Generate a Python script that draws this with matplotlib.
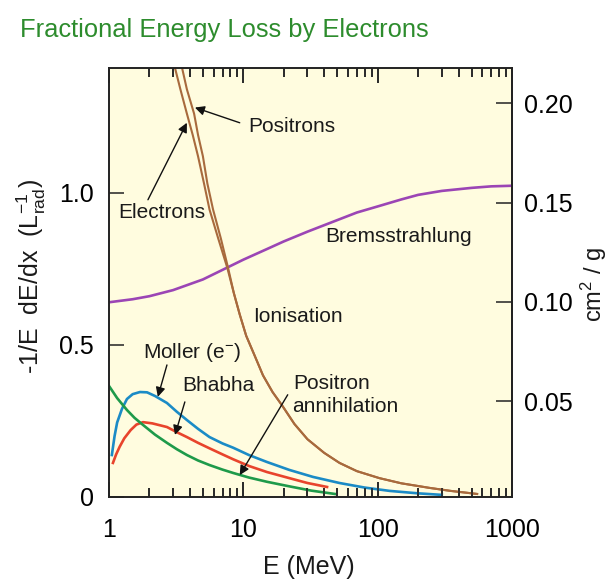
import matplotlib
matplotlib.use('Agg')
import matplotlib.pyplot as plt
from matplotlib import ticker

# energies in MeV, values in units of 1/L_rad
brems_energy = [1, 1.5, 2, 3, 5, 7.5, 10, 15, 20, 30, 50, 70, 100, 150, 200, 300, 500, 700, 1000]
brems = [0.64, 0.65, 0.66, 0.68, 0.715, 0.753, 0.78, 0.815, 0.84, 0.872, 0.91, 0.935,
         0.955, 0.978, 0.993, 1.006, 1.016, 1.021, 1.023]

ion_e_energy = [3.1, 3.4, 3.8, 4.2, 4.6, 5.1, 5.6, 6.5, 7.6, 8.5, 9.4, 10.5, 12, 14, 16.5,
                19.5, 24, 30, 40, 52, 70, 103, 150, 243, 350, 550]
ion_e = [1.41, 1.34, 1.26, 1.19, 1.12, 1.03, 0.945, 0.85, 0.753, 0.67, 0.60, 0.53, 0.47,
         0.40, 0.345, 0.30, 0.24, 0.19, 0.145, 0.112, 0.085, 0.062, 0.045, 0.03, 0.02, 0.01]

ion_p_energy = [3.5, 3.8, 4.3, 4.6, 5.0, 5.4, 5.95, 6.8, 7.7, 8.5, 9.4, 10.5, 12, 14, 16.5,
                19.5, 24, 30, 40, 52, 70, 103, 150, 243, 350, 550]
ion_p = [1.41, 1.34, 1.26, 1.19, 1.12, 1.03, 0.945, 0.85, 0.753, 0.67, 0.60, 0.53, 0.47,
         0.40, 0.345, 0.30, 0.24, 0.19, 0.145, 0.112, 0.085, 0.062, 0.045, 0.03, 0.02, 0.01]

moller_energy = [1.05, 1.1, 1.15, 1.25, 1.36, 1.5, 1.7, 1.92, 2.2, 2.7, 3.2, 3.8, 4.6, 5.6,
                 7, 8.4, 11, 15, 22, 33, 52, 80, 123, 200, 300]
moller = [0.138, 0.20, 0.245, 0.29, 0.322, 0.338, 0.345, 0.344, 0.332, 0.309, 0.28, 0.253,
          0.224, 0.197, 0.176, 0.162, 0.138, 0.115, 0.089, 0.066, 0.046, 0.031, 0.020, 0.012, 0.007]

bhabha_energy = [1.07, 1.13, 1.2, 1.3, 1.45, 1.6, 1.79, 2.1, 2.7, 3.2, 3.8, 4.6, 5.6, 7,
                 8.4, 11, 15, 22, 30, 42]
bhabha = [0.112, 0.14, 0.165, 0.193, 0.22, 0.238, 0.246, 0.242, 0.230, 0.213, 0.197, 0.178,
          0.160, 0.14, 0.124, 0.102, 0.082, 0.062, 0.046, 0.033]

annih_energy = [1.0, 1.15, 1.36, 1.55, 1.79, 2.2, 2.7, 3.2, 3.8, 4.6, 5.6, 7, 8.4, 11, 15,
                22, 32, 48]
annih = [0.365, 0.325, 0.286, 0.26, 0.237, 0.205, 0.178, 0.157, 0.138, 0.12, 0.105, 0.09,
         0.079, 0.064, 0.05, 0.035, 0.021, 0.010]

x_ticks = [1, 10, 100, 1000]
x_ticklabels = ['1', '10', '100', '1000']
left_ticks = [0, 0.5, 1.0]
left_ticklabels = ['0', '0.5', '1.0']
right_ticks = [0.05, 0.10, 0.15, 0.20]
right_ticklabels = ['0.05', '0.10', '0.15', '0.20']

# 1/L_rad -> cm^2/g, taken from where the two tick scales line up
CM2G_SCALE = 0.15326
CM2G_OFFSET = 0.0017

plt.rcParams['font.family'] = ['Liberation Sans', 'DejaVu Sans']
plt.rcParams['mathtext.fontset'] = 'custom'
plt.rcParams['mathtext.rm'] = 'Liberation Sans'
plt.rcParams['mathtext.it'] = 'Liberation Sans:italic'

W, H = 610, 583
fig = plt.figure(figsize=(W / 100, H / 100), dpi=100)
ax = fig.add_axes([109 / W, 1 - 497 / H, 403 / W, 429 / H])
ax.set_facecolor('#FFFCDF')

ax.plot(brems_energy, brems, color='#9B45B5', lw=1.9)
ax.plot(ion_e_energy, ion_e, color='#A86A3D', lw=1.5)
ax.plot(ion_p_energy, ion_p, color='#A86A3D', lw=1.5)
ax.plot(moller_energy, moller, color='#1B8BC6', lw=1.9)
ax.plot(bhabha_energy, bhabha, color='#E8442C', lw=1.9)
ax.plot(annih_energy, annih, color='#1E9A4A', lw=1.9)

ax.set_xscale('log')
ax.set_xlim(1, 1000)
ax.set_ylim(0, 1.41)

ax.set_xticks(x_ticks)
ax.set_xticklabels(x_ticklabels)
ax.xaxis.set_minor_formatter(ticker.NullFormatter())
ax.set_yticks(left_ticks)
ax.set_yticklabels(left_ticklabels)
ax.tick_params(which='both', direction='in', top=True, bottom=True, right=False,
               color='#222222', width=1.1)
ax.tick_params(which='major', length=11, labelsize=18)
ax.tick_params(which='minor', length=6.5)
ax.tick_params(axis='x', which='major', pad=15)
ax.tick_params(axis='y', which='major', pad=11)
for s in ax.spines.values():
    s.set_linewidth(1.4)
    s.set_color('#222222')

# the x tick marks did not render in the full figure, so draw them from the
# axis' own tick locations as short lines in axes-height units
tick_tr = ax.get_xaxis_transform()
major_locs = ax.xaxis.get_majorticklocs()
minor_locs = ax.xaxis.get_minorticklocs()
for locs, frac in ((major_locs, 0.036), (minor_locs, 0.021)):
    ax.vlines(locs, 0, frac, transform=tick_tr, colors='#222222', lw=1.1, zorder=2.6)
    ax.vlines(locs, 1 - frac, 1, transform=tick_tr, colors='#222222', lw=1.1, zorder=2.6)

# right-hand axis in cm^2/g
sec = ax.secondary_yaxis('right', functions=(lambda v: v * CM2G_SCALE + CM2G_OFFSET,
                                             lambda v: (v - CM2G_OFFSET) / CM2G_SCALE))
sec.set_yticks(right_ticks)
sec.set_yticklabels(right_ticklabels)
sec.tick_params(axis='y', direction='in', length=11.5, width=1.1, color='#222222',
                labelsize=18, pad=8.6)
sec.yaxis.set_minor_locator(ticker.NullLocator())
sec.spines['right'].set_linewidth(1.4)
sec.spines['right'].set_color('#222222')

lab = dict(fontsize=15, color='#1a1a1a', va='center', ha='left')
arr = dict(arrowstyle='-|>', color='#111111', lw=1.0, mutation_scale=14, shrinkA=0, shrinkB=0)

ax.text(10.8, 1.217, 'Positrons', **lab)
ax.annotate('', xy=(4.36, 1.28), xytext=(9.4, 1.23), arrowprops=arr)
ax.text(1.17, 0.934, 'Electrons', **lab)
ax.annotate('', xy=(3.8, 1.23), xytext=(1.95, 0.977), arrowprops=arr)
ax.text(41, 0.855, 'Bremsstrahlung', **lab)
ax.text(11.8, 0.592, 'Ionisation', **lab)
ax.text(1.79, 0.474, 'Moller (e$^{-}$)', **lab)
ax.annotate('', xy=(2.31, 0.329), xytext=(2.70, 0.434), arrowprops=arr)
ax.text(3.49, 0.368, 'Bhabha', **lab)
ax.annotate('', xy=(3.1, 0.204), xytext=(3.67, 0.3125), arrowprops=arr)
ax.text(23.4, 0.372, 'Positron', **lab)
ax.text(23.0, 0.297, 'annihilation', **lab)
ax.annotate('', xy=(9.4, 0.072), xytext=(21.4, 0.336), arrowprops=arr)

fig.text(20 / W, 1 - 37 / H, 'Fractional Energy Loss by Electrons', fontsize=18.4,
         color='#2D8C2D', ha='left', va='baseline')
fig.text(309 / W, 1 - 567 / H, 'E (MeV)', fontsize=18, ha='center', va='center', color='#1a1a1a')
fig.text(31 / W, 1 - 277 / H, r'-1/E  dE/dx  (L$_{\rm rad}^{-1}$)', fontsize=18,
         rotation=90, ha='center', va='center', color='#1a1a1a')
fig.text(594 / W, 1 - 285 / H, r'cm$^2$ / g', fontsize=17,
         rotation=90, ha='center', va='center', color='#1a1a1a')

fig.savefig('out.png', dpi=100)
